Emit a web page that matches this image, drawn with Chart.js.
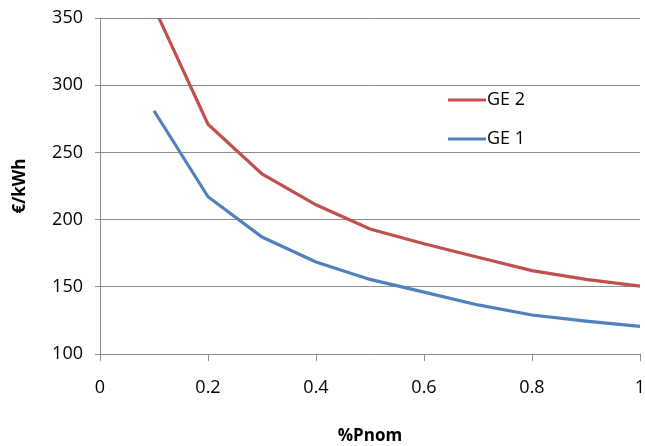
<!DOCTYPE html>
<html>
<head>
<meta charset="utf-8">
<script src="https://cdn.jsdelivr.net/npm/chart.js@4/dist/chart.umd.min.js"></script>
<style>
html,body{margin:0;padding:0;background:#fff;}
#wrap{width:645px;height:446px;position:relative;}
</style>
</head>
<body>
<div id="wrap"><canvas id="c" width="645" height="446"></canvas></div>
<script>
const xValues = [0.1, 0.2, 0.3, 0.4, 0.5, 0.6, 0.7, 0.8, 0.9, 1.0];
const ge2Values = [358, 271, 234, 211, 193, 182, 172, 162, 155.5, 150.5];
const ge1Values = [281, 217, 187, 168.5, 155.5, 146, 136.5, 129, 124.5, 120.5];
const seriesLabels = ["GE 2", "GE 1"];
const xTitle = "%Pnom";
const yTitle = "€/kWh";

const FONT = "'Open Sans', 'DejaVu Sans', sans-serif";
const RED = "#C0504D", BLUE = "#4F81BD", GRID = "#8C8C8C";

const toPts = (vals) => xValues.map((x, i) => ({x: x, y: vals[i]}));

const legendPlugin = {
  id: 'inlineLegend',
  afterDatasetsDraw(chart) {
    const ctx = chart.ctx;
    const x0 = 448, x1 = 486;
    const rows = [100, 139];
    ctx.save();
    chart.data.datasets.forEach((ds, i) => {
      const y = rows[i];
      ctx.strokeStyle = ds.borderColor;
      ctx.lineWidth = 3;
      ctx.lineCap = 'butt';
      ctx.beginPath(); ctx.moveTo(x0, y); ctx.lineTo(x1, y); ctx.stroke();
      ctx.fillStyle = '#000';
      ctx.font = "18px " + FONT;
      ctx.textBaseline = 'middle';
      ctx.textAlign = 'left';
      ctx.fillText(ds.label, x1 + 1, y);
    });
    ctx.restore();
  }
};

new Chart(document.getElementById('c'), {
  type: 'line',
  data: {
    datasets: [
      {label: seriesLabels[0], data: toPts(ge2Values), borderColor: RED, backgroundColor: RED, borderWidth: 3.2, pointRadius: 0, tension: 0},
      {label: seriesLabels[1], data: toPts(ge1Values), borderColor: BLUE, backgroundColor: BLUE, borderWidth: 3.2, pointRadius: 0, tension: 0}
    ]
  },
  options: {
    responsive: false,
    animation: false,
    layout: {padding: {top: 18, right: 5, left: 0, bottom: 0}},
    plugins: {legend: {display: false}, tooltip: {enabled: false}},
    scales: {
      x: {
        type: 'linear', min: 0, max: 1,
        ticks: {stepSize: 0.2, color: '#000', font: {family: FONT, size: 18}, padding: 16, maxRotation: 0,
          callback: v => String(Math.round(v * 10) / 10)},
        grid: {drawOnChartArea: false, drawTicks: true, tickLength: 7, color: GRID},
        border: {display: true, color: GRID, width: 1},
        title: {display: true, text: xTitle, color: '#000', font: {family: FONT, size: 17, weight: 'bold'}, padding: {top: 10, bottom: 0}},
        afterFit: s => { s.height = 92; s.paddingRight = 0; s.paddingLeft = 0; }
      },
      y: {
        min: 100, max: 350,
        ticks: {stepSize: 50, color: '#000', font: {family: FONT, size: 18}, padding: 12},
        grid: {drawOnChartArea: true, drawTicks: true, tickLength: 5, color: GRID},
        border: {display: true, color: GRID, width: 1},
        title: {display: true, text: yTitle, color: '#000', font: {family: FONT, size: 17, weight: 'bold'}, padding: {top: 10, bottom: 0}},
        afterFit: s => { s.width = 100; s.paddingTop = 0; s.paddingBottom = 0; }
      }
    }
  },
  plugins: [legendPlugin]
});
</script>
</body>
</html>
